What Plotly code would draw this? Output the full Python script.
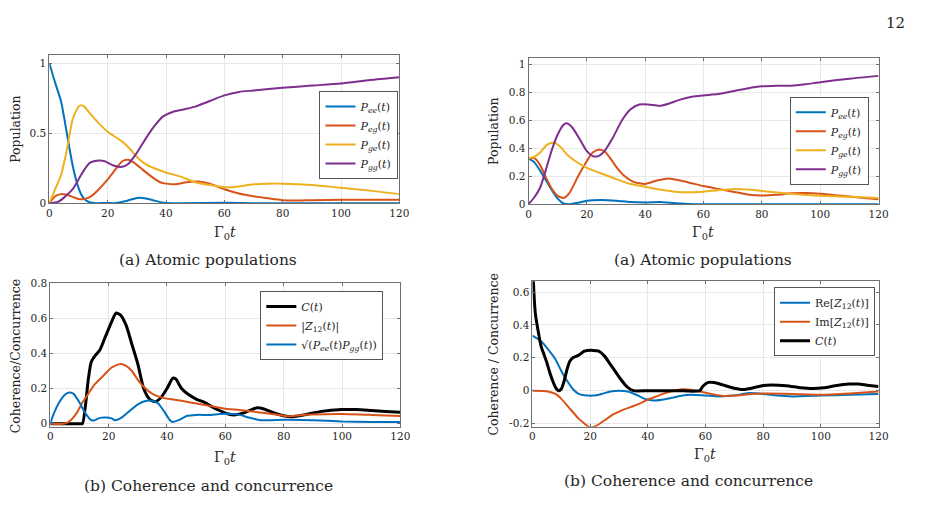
import plotly.graph_objects as go

W, H = 926, 508
FONT = "DejaVu Serif"
BLUE, ORANGE, YELLOW, PURPLE, BLACK = "#0072BD", "#D95319", "#EDB120", "#7E2F8E", "#000000"

# ---------------- (top-left) Atomic populations ----------------
tl_t_ee = [0, 2, 4, 5, 6, 7, 8, 9, 10, 11, 12, 14, 16, 20, 22, 24, 27, 30, 32, 35, 38, 40, 45, 60, 70, 120]
tl_ee = [1.0, 0.86, 0.73, 0.62, 0.5, 0.38, 0.27, 0.18, 0.11, 0.06, 0.03, 0.005, 0.0, 0.002, 0.0, 0.005, 0.02, 0.038, 0.038, 0.025, 0.008, 0.001, 0.0, 0.003, 0.0, 0.0]
tl_t_eg = [0, 2, 4, 6, 8, 10, 12, 14, 17, 20, 23, 25, 27, 29, 32, 35, 38, 40, 43, 47, 51, 55, 60, 65, 70, 75, 80, 85, 90, 100, 110, 120]
tl_eg = [0, 0.05, 0.065, 0.06, 0.045, 0.03, 0.03, 0.045, 0.1, 0.17, 0.25, 0.3, 0.31, 0.29, 0.24, 0.19, 0.15, 0.14, 0.135, 0.15, 0.155, 0.14, 0.1, 0.07, 0.05, 0.035, 0.022, 0.02, 0.022, 0.025, 0.025, 0.025]
tl_t_ge = [0, 2, 4, 6, 8, 10, 11, 12, 14, 17, 20, 25, 28, 30, 33, 36, 40, 45, 50, 55, 60, 63, 70, 75, 80, 90, 100, 110, 120]
tl_ge = [0, 0.1, 0.2, 0.38, 0.6, 0.69, 0.7, 0.69, 0.64, 0.57, 0.51, 0.44, 0.38, 0.33, 0.28, 0.25, 0.22, 0.19, 0.15, 0.13, 0.115, 0.115, 0.135, 0.14, 0.14, 0.13, 0.11, 0.09, 0.065]
tl_t_gg = [0, 3, 5, 8, 10, 12, 14, 17, 19, 22, 25, 27, 30, 33, 36, 39, 42, 46, 50, 55, 60, 65, 70, 80, 90, 100, 110, 120]
tl_gg = [0, 0.01, 0.04, 0.1, 0.17, 0.24, 0.29, 0.305, 0.3, 0.27, 0.26, 0.28, 0.36, 0.46, 0.55, 0.62, 0.65, 0.67, 0.69, 0.73, 0.77, 0.795, 0.805, 0.825, 0.84, 0.855, 0.88, 0.9]

# ---------------- (top-right) Atomic populations ----------------
tr_t_ee = [0, 2, 4, 6, 8, 10, 12, 14, 17, 20, 25, 30, 35, 40, 45, 50, 55, 60, 120]
tr_ee = [0.33, 0.3, 0.24, 0.17, 0.1, 0.04, 0.005, 0.0, 0.01, 0.025, 0.03, 0.025, 0.015, 0.012, 0.015, 0.008, 0.002, 0.0, 0.0]
tr_t_eg = [0, 2, 4, 6, 8, 10, 12, 14, 17, 20, 22, 24, 26, 28, 30, 33, 36, 40, 44, 48, 52, 56, 60, 65, 70, 75, 80, 85, 90, 95, 100, 105, 110, 115, 120]
tr_eg = [0.33, 0.33, 0.28, 0.19, 0.11, 0.06, 0.045, 0.08, 0.2, 0.31, 0.37, 0.39, 0.38, 0.33, 0.27, 0.2, 0.16, 0.145, 0.17, 0.185, 0.17, 0.15, 0.13, 0.11, 0.09, 0.07, 0.062, 0.067, 0.078, 0.08, 0.075, 0.065, 0.055, 0.045, 0.035]
tr_t_ge = [0, 2, 4, 6, 8, 9, 11, 13, 16, 20, 25, 30, 35, 40, 45, 50, 55, 60, 65, 70, 75, 80, 90, 100, 110, 120]
tr_ge = [0.33, 0.34, 0.37, 0.42, 0.44, 0.44, 0.41, 0.36, 0.31, 0.26, 0.22, 0.18, 0.145, 0.125, 0.105, 0.09, 0.085, 0.09, 0.1, 0.108, 0.105, 0.095, 0.075, 0.06, 0.053, 0.045]
tr_t_gg = [0, 2, 4, 6, 8, 10, 12, 13, 15, 18, 20, 22, 24, 26, 29, 32, 35, 38, 41, 45, 48, 52, 56, 60, 65, 70, 75, 80, 85, 90, 95, 100, 110, 120]
tr_gg = [0, 0.05, 0.12, 0.25, 0.39, 0.5, 0.57, 0.58, 0.55, 0.45, 0.38, 0.345, 0.345, 0.38, 0.48, 0.6, 0.68, 0.715, 0.715, 0.705, 0.72, 0.75, 0.77, 0.78, 0.79, 0.81, 0.83, 0.845, 0.85, 0.85, 0.86, 0.875, 0.9, 0.92]

# ---------------- (bottom-left) Coherence and concurrence ----------------
bl_t_c = [0, 10, 11, 13, 14, 15.5, 17, 19, 21, 22.5, 24, 26, 28, 30, 32, 34, 36, 38, 40, 42, 43, 45, 47, 50, 53, 55, 58, 61, 63, 66, 69, 71, 73, 76, 80, 83, 87, 93, 100, 105, 110, 115, 120]
bl_c = [0, 0, 0.0, 0.25, 0.35, 0.39, 0.42, 0.5, 0.58, 0.63, 0.62, 0.56, 0.45, 0.34, 0.2, 0.14, 0.125, 0.15, 0.2, 0.26, 0.255, 0.2, 0.17, 0.14, 0.12, 0.1, 0.075, 0.055, 0.05, 0.06, 0.08, 0.09, 0.085, 0.065, 0.045, 0.04, 0.05, 0.07, 0.08, 0.08, 0.075, 0.07, 0.065]
bl_t_z = [0, 5, 7, 9, 11, 13, 15, 18, 21, 24, 26, 28, 30, 32, 35, 38, 41, 45, 50, 55, 60, 65, 70, 75, 80, 82, 85, 90, 100, 110, 120]
bl_z = [0, 0.0, 0.02, 0.06, 0.12, 0.17, 0.22, 0.27, 0.32, 0.34, 0.33, 0.3, 0.25, 0.21, 0.17, 0.15, 0.14, 0.13, 0.115, 0.1, 0.085, 0.078, 0.068, 0.058, 0.045, 0.042, 0.047, 0.052, 0.055, 0.05, 0.043]
bl_t_s = [0, 1, 3, 5, 6.5, 8, 10, 12, 14, 15, 17, 19, 21, 22, 24, 27, 30, 33, 35, 37, 39, 41, 42, 44, 47, 50, 55, 58, 62, 65, 68, 72, 76, 80, 90, 100, 110, 120]
bl_s = [0, 0.05, 0.12, 0.165, 0.178, 0.17, 0.12, 0.06, 0.02, 0.018, 0.033, 0.035, 0.03, 0.02, 0.03, 0.07, 0.11, 0.13, 0.13, 0.115, 0.07, 0.02, 0.01, 0.02, 0.045, 0.05, 0.05, 0.055, 0.055, 0.05, 0.035, 0.02, 0.02, 0.022, 0.02, 0.013, 0.01, 0.009]

# ---------------- (bottom-right) Coherence and concurrence ----------------
br_t_re = [0, 3, 5, 8, 10, 12, 14, 16, 18, 21, 24, 27, 30, 33, 36, 39, 42, 45, 48, 52, 55, 60, 65, 70, 75, 80, 85, 90, 100, 110, 120]
br_re = [0.335, 0.3, 0.26, 0.19, 0.12, 0.06, 0.01, -0.02, -0.028, -0.03, -0.02, -0.005, 0.0, -0.005, -0.025, -0.05, -0.06, -0.055, -0.045, -0.03, -0.025, -0.03, -0.035, -0.03, -0.015, -0.02, -0.03, -0.035, -0.03, -0.025, -0.02]
br_t_im = [0, 5, 8, 10, 13, 16, 18, 20, 22, 25, 28, 31, 34, 37, 40, 43, 46, 49, 52, 55, 58, 62, 66, 70, 75, 80, 90, 100, 110, 120]
br_im = [0, -0.003, -0.02, -0.05, -0.11, -0.17, -0.2, -0.225, -0.215, -0.18, -0.145, -0.12, -0.1, -0.08, -0.055, -0.035, -0.015, 0.0, 0.008, 0.005, -0.005, -0.02, -0.032, -0.03, -0.022, -0.018, -0.02, -0.025, -0.017, -0.005]
br_t_c = [0, 0.5, 1, 2, 3, 4, 5, 6, 7, 8, 9, 10, 11, 12, 13, 14, 16, 18, 21, 23, 25, 27, 29, 31, 33, 35, 40, 50, 58, 59, 61, 63, 66, 70, 73, 76, 80, 83, 88, 93, 97, 101, 105, 110, 113, 116, 120]
br_c = [0.8, 0.6, 0.47, 0.36, 0.27, 0.22, 0.17, 0.11, 0.06, 0.02, 0.0, 0.01, 0.06, 0.13, 0.18, 0.2, 0.215, 0.24, 0.245, 0.24, 0.21, 0.16, 0.11, 0.06, 0.02, 0.0, 0.0, 0.0, 0.0, 0.025, 0.05, 0.05, 0.035, 0.015, 0.007, 0.015, 0.032, 0.035, 0.03, 0.018, 0.013, 0.017, 0.03, 0.04, 0.04, 0.033, 0.025]

x_ticks = [0, 20, 40, 60, 80, 100, 120]


def px(x):
    return x / W


def py(y):
    return 1 - y / H


def lbl(sub):
    return "<i>P</i><sub><i>%s</i></sub>(<i>t</i>)" % sub


C_LBL = "<i>C</i>(<i>t</i>)"
TXT = "#262626"

fig = go.Figure()

panels = [
    ("x", "y", "legend", (47, 402), (50, 202), [0, 1.06], [0, 0.5, 1], ["0", "0.5", "1"], (321, 87)),
    ("x2", "y2", "legend2", (533, 888), (53, 203), [0, 1.05], [0, 0.2, 0.4, 0.6, 0.8, 1], ["0", "0.2", "0.4", "0.6", "0.8", "1"], (798, 93)),
    ("x3", "y3", "legend3", (48, 403), (284, 431), [-0.018, 0.8], [0, 0.2, 0.4, 0.6, 0.8], ["0", "0.2", "0.4", "0.6", "0.8"], (261, 292)),
    ("x4", "y4", "legend4", (537, 888), (282, 431), [-0.22, 0.665], [-0.2, 0, 0.2, 0.4, 0.6], ["-0.2", "0", "0.2", "0.4", "0.6"], (782, 288)),
]

series = [
    [(tl_t_ee, tl_ee, BLUE, lbl("ee"), 2), (tl_t_eg, tl_eg, ORANGE, lbl("eg"), 2),
     (tl_t_ge, tl_ge, YELLOW, lbl("ge"), 2), (tl_t_gg, tl_gg, PURPLE, lbl("gg"), 2)],
    [(tr_t_ee, tr_ee, BLUE, lbl("ee"), 2), (tr_t_eg, tr_eg, ORANGE, lbl("eg"), 2),
     (tr_t_ge, tr_ge, YELLOW, lbl("ge"), 2), (tr_t_gg, tr_gg, PURPLE, lbl("gg"), 2)],
    [(bl_t_c, bl_c, BLACK, C_LBL, 3), (bl_t_z, bl_z, ORANGE, "|<i>Z</i><sub>12</sub>(<i>t</i>)|", 2),
     (bl_t_s, bl_s, BLUE, "√(" + lbl("ee") + lbl("gg") + ")", 2)],
    [(br_t_re, br_re, BLUE, "Re[<i>Z</i><sub>12</sub>(<i>t</i>)]", 2),
     (br_t_im, br_im, ORANGE, "Im[<i>Z</i><sub>12</sub>(<i>t</i>)]", 2),
     (br_t_c, br_c, BLACK, C_LBL, 3)],
]

layout = dict(
    width=W, height=H, margin=dict(l=0, r=0, t=0, b=0),
    paper_bgcolor="white", plot_bgcolor="white",
    font=dict(family=FONT, size=11, color=TXT),
    showlegend=True,
)

AX_COLOR = "#707070"
for (xa, ya, lg, (x0, x1), (y0, y1), yr, yt, ytt, (lx, ly)), ser in zip(panels, series):
    for t, v, col, name, w in ser:
        fig.add_trace(go.Scatter(
            x=t, y=v, mode="lines", name=name, xaxis=xa, yaxis=ya, legend=lg,
            line=dict(color=col, width=w, shape="spline", smoothing=0.6),
        ))
    xkey = "xaxis" + xa[1:]
    ykey = "yaxis" + ya[1:]
    common = dict(
        ticks="inside", ticklen=3, tickcolor=AX_COLOR, mirror="allticks",
        showline=True, linecolor=AX_COLOR, linewidth=1,
        showgrid=True, gridcolor="#e8e8e8", zeroline=False,
        tickfont=dict(size=10.5, color=TXT, family=FONT),
    )
    layout[xkey] = dict(domain=[px(x0), px(x1)], range=[0, 120], anchor=ya,
                        tickvals=x_ticks, ticktext=[str(v) for v in x_ticks], **common)
    layout[ykey] = dict(domain=[py(y1), py(y0)], range=yr, anchor=xa,
                        tickvals=yt, ticktext=ytt, **common)
    layout[lg] = dict(
        x=px(lx), y=py(ly), xanchor="left", yanchor="top",
        bgcolor="white", bordercolor="#555555", borderwidth=1,
        font=dict(size=11, color=TXT, family=FONT),
        tracegroupgap=0, itemwidth=30,
    )

fig.update_layout(**layout)

ann = [
    ("12", 905, 17, 0, 15),
    ("Population", 12, 126, -90, 12.5),
    ("Population", 498, 128, -90, 12.5),
    ("Coherence/Concurrence", 13, 358, -90, 12.5),
    ("Coherence / Concurrence", 498, 357, -90, 12.5),
    ("Γ<sub>0</sub><i>t</i>", 225, 233, 0, 14),
    ("Γ<sub>0</sub><i>t</i>", 710, 233, 0, 14),
    ("Γ<sub>0</sub><i>t</i>", 225, 463, 0, 14),
    ("Γ<sub>0</sub><i>t</i>", 712, 460, 0, 14),
    ("(a) Atomic populations", 208, 260, 0, 15.5),
    ("(a) Atomic populations", 710, 260, 0, 15.5),
    ("(b) Coherence and concurrence", 208, 492, 0, 15.5),
    ("(b) Coherence and concurrence", 695, 487, 0, 15.5),
]
for text, x, y, ang, size in ann:
    fig.add_annotation(text=text, x=px(x), y=py(y), xref="paper", yref="paper",
                       showarrow=False, textangle=ang, xanchor="center", yanchor="middle",
                       font=dict(family=FONT, size=size, color=TXT))

fig.write_html("out.html")
